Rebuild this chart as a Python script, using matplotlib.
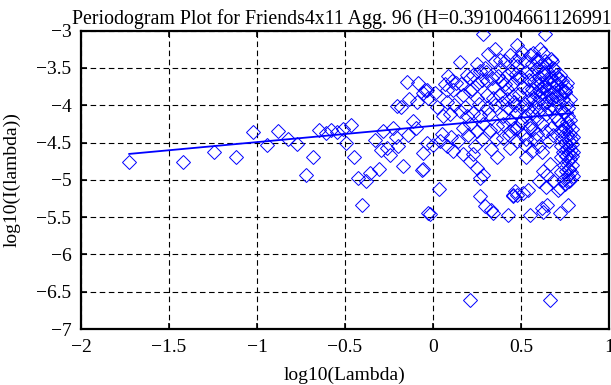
import numpy as np
import matplotlib
matplotlib.use("Agg")
import matplotlib.pyplot as plt

# ==========================================================
# DATA
# ==========================================================

hurst = 0.391004661126991
title = "Periodogram Plot for Friends4x11 Agg. 96 (H=%s)" % repr(hurst)

# fitted line: slope = 1 - 2H, intercept read at log10(Lambda) = 0
fit_slope = 1 - 2 * hurst
fit_intercept = -4.276

# sparse low-frequency part
x_low = [-1.726, -1.422, -1.246, -1.121, -1.024, -0.945, -0.879, -0.822, -0.771,
         -0.723, -0.682, -0.646, -0.608, -0.581, -0.547, -0.513, -0.494, -0.466,
         -0.449, -0.424, -0.402, -0.381, -0.358, -0.33, -0.305, -0.297, -0.282,
         -0.263, -0.244, -0.225, -0.21, -0.206, -0.197, -0.183, -0.168, -0.149,
         -0.14, -0.135, -0.112, -0.097, -0.093, -0.083, -0.065, -0.055, -0.055,
         -0.036, -0.036, -0.027, -0.017, -0.045, -0.026, 0.011, 0.002, 0.036]
y_low = [-4.754, -4.767, -4.633, -4.687, -4.365, -4.53, -4.343, -4.454, -4.52,
         -4.94, -4.70, -4.325, -4.374, -4.33, -4.365, -4.32, -4.507, -4.266,
         -4.70, -4.976, -5.343, -5.01, -4.91, -4.463, -4.85, -4.606, -4.35,
         -4.575, -4.664, -4.307, -4.419, -4.008, -4.543, -4.026, -4.81, -3.683,
         -4.396, -3.918, -4.205, -4.307, -3.95, -3.705, -4.865, -3.838, -4.641,
         -3.794, -4.507, -5.444, -5.454, -3.79, -3.90, -3.83, -4.53, -5.12]

# middle part, 0 .. 0.45
x_mid = [0.04, -0.055, 0.058, 0.068, 0.078, 0.078, 0.087, 0.097, 0.106, 0.115,
         0.115, 0.153, 0.153, 0.172, 0.172, 0.172, 0.191, 0.191, 0.21, 0.21,
         0.21, 0.21, 0.229, 0.229, 0.229, 0.248, 0.248, 0.248, 0.248, 0.267,
         0.267, 0.267, 0.267, 0.277, 0.286, 0.286, 0.286, 0.295, 0.305, 0.305,
         0.305, 0.314, 0.324, 0.333, 0.343, 0.352, 0.352, 0.362, 0.362, 0.371,
         0.381, 0.381, 0.39, 0.39, 0.40, 0.40, 0.409, 0.419, 0.419, 0.428,
         0.438, 0.438, 0.438, 0.447, 0.21, 0.02, 0.05, 0.08, 0.10, 0.12,
         0.14, 0.16, 0.18, 0.20, 0.22, 0.24, 0.26, 0.28, 0.30, 0.32,
         0.34, 0.36, 0.38, 0.40, 0.42, 0.44, 0.13, 0.33, 0.25, 0.35,
         0.41, 0.43, 0.295, 0.328, 0.339, 0.428]
y_mid = [-4.48, -4.86, -4.15, -3.72, -3.79, -4.55, -3.61, -4.12, -3.68, -3.79,
         -4.61, -3.42, -4.08, -3.86, -4.30, -4.66, -3.59, -4.15, -3.63, -3.81,
         -4.25, -4.75, -3.59, -4.10, -4.66, -3.72, -3.90, -4.35, -4.84, -3.54,
         -4.15, -4.97, -5.22, -3.66, -3.044, -4.25, -4.93, -3.50, -3.68, -3.86,
         -4.03, -3.31, -4.33, -3.63, -3.90, -3.41, -3.99, -4.28, -4.70, -3.61,
         -3.39, -3.86, -3.68, -3.97, -4.25, -4.44, -3.41, -3.59, -3.92, -4.03,
         -3.32, -4.35, -4.57, -3.54, -6.605, -4.02, -4.38, -3.95, -4.42, -4.00,
         -4.48, -3.72, -4.02, -4.40, -3.78, -4.55, -3.98, -4.45, -3.55, -4.12,
         -3.75, -4.45, -3.50, -4.15, -3.78, -4.20, -3.70, -4.58, -3.45, -3.25,
         -3.72, -4.40, -5.347, -5.40, -5.444, -5.467]

# dense high-frequency part, 0.45 .. 0.8
x_high = [0.457, 0.466, 0.475, 0.475, 0.457, 0.466, 0.475, 0.466, 0.457, 0.475,
          0.504, 0.513, 0.542, 0.523, 0.551, 0.551, 0.551, 0.561, 0.589, 0.589,
          0.617, 0.627, 0.627, 0.627, 0.636, 0.646, 0.646, 0.665, 0.674, 0.684,
          0.665, 0.712, 0.722, 0.722, 0.722, 0.75, 0.76, 0.769, 0.769, 0.778,
          0.45, 0.46, 0.47, 0.48, 0.49, 0.50, 0.50, 0.51, 0.51, 0.52,
          0.52, 0.53, 0.53, 0.54, 0.54, 0.545, 0.55, 0.55, 0.46, 0.48,
          0.49, 0.52, 0.53, 0.47, 0.50,
          0.555, 0.56, 0.56, 0.565, 0.57, 0.57, 0.575, 0.58, 0.58, 0.585,
          0.59, 0.59, 0.595, 0.60, 0.60, 0.605, 0.61, 0.61, 0.615, 0.62,
          0.62, 0.625, 0.63, 0.63, 0.635, 0.64, 0.64, 0.645, 0.65, 0.65,
          0.655, 0.66, 0.66, 0.665, 0.67, 0.67, 0.675, 0.68, 0.68, 0.685,
          0.69, 0.69, 0.695, 0.70, 0.70, 0.58, 0.60, 0.62, 0.64, 0.66,
          0.68, 0.57, 0.59, 0.61, 0.63, 0.65, 0.67, 0.69, 0.60, 0.64,
          0.705, 0.71, 0.715, 0.72, 0.725, 0.73, 0.735, 0.74, 0.745, 0.75,
          0.755, 0.76, 0.765, 0.71, 0.73,
          0.72, 0.725, 0.73, 0.735, 0.74, 0.745, 0.75, 0.75, 0.755, 0.755,
          0.76, 0.76, 0.765, 0.765, 0.77, 0.77, 0.77, 0.775, 0.775, 0.78,
          0.78, 0.78, 0.785, 0.785, 0.785, 0.79, 0.79, 0.79, 0.79, 0.795,
          0.795, 0.795, 0.74, 0.76, 0.73, 0.75, 0.78, 0.77, 0.74]
y_high = [-5.22, -5.155, -5.20, -3.63, -3.88, -3.99, -4.30, -3.41, -5.20, -3.19,
          -3.28, -5.17, -5.13, -4.53, -5.467, -3.32, -4.30, -4.61, -3.41, -4.39,
          -5.378, -5.436, -3.30, -4.88, -3.044, -5.333, -4.93, -4.79, -3.41, -5.02,
          -6.605, -5.13, -5.444, -3.59, -5.11, -3.81, -3.70, -5.333, -4.03, -3.92,
          -3.72, -3.95, -4.10, -3.48, -3.85, -4.22, -3.62, -4.40, -3.75, -3.98,
          -4.15, -3.55, -4.45, -3.80, -4.05, -3.66, -4.25, -3.92, -4.30, -4.48,
          -3.35, -3.40, -4.70, -3.58, -4.02,
          -3.58, -3.78, -4.10, -3.45, -3.92, -4.32, -3.68, -3.85, -4.02, -3.52,
          -3.72, -4.18, -3.95, -3.62, -3.80, -4.08, -3.48, -3.90, -3.70, -4.25,
          -3.82, -3.58, -3.98, -3.75, -3.40, -3.88, -4.12, -3.65, -3.78, -3.95,
          -3.55, -4.05, -3.70, -3.85, -3.62, -4.30, -3.92, -3.75, -3.50, -4.02,
          -3.82, -3.68, -4.15, -3.88, -3.60, -4.45, -4.55, -4.62, -4.35, -4.48,
          -4.40, -3.30, -3.38, -3.25, -3.55, -3.45, -3.38, -3.52, -5.02, -5.10,
          -3.72, -3.95, -3.65, -3.85, -4.05, -3.78, -3.68, -3.92, -4.10, -3.82,
          -3.75, -3.98, -4.15, -4.20, -4.25,
          -4.35, -4.55, -4.70, -4.42, -4.62, -4.80, -4.30, -4.50, -4.68, -4.88,
          -4.40, -4.58, -4.75, -4.95, -4.28, -4.48, -4.65, -4.85, -4.55, -4.38,
          -4.72, -5.00, -4.60, -4.45, -4.90, -4.32, -4.52, -4.68, -4.80, -4.42,
          -4.62, -4.95, -4.35, -4.22, -4.90, -5.05, -4.20, -5.02, -5.00]

x_ticks = [-2, -1.5, -1, -0.5, 0, 0.5, 1]
y_ticks = [-7, -6.5, -6, -5.5, -5, -4.5, -4, -3.5, -3]

# ==========================================================
# PLOT
# ==========================================================

plt.rcParams["font.family"] = ["Liberation Serif", "DejaVu Serif"]
plt.rcParams["font.size"] = 14

fig = plt.figure(figsize=(6.11, 3.85), dpi=100)
ax = fig.add_axes([81 / 611, 1 - 329 / 385, 528 / 611, 298.3 / 385])

x_all = np.array(x_low + x_mid + x_high)
y_all = np.array(y_low + y_mid + y_high)

ax.plot(x_all, y_all, linestyle="none", marker="D", markersize=7,
        markerfacecolor="none", markeredgecolor="#0000ff",
        markeredgewidth=0.7, zorder=3)

fit_x = np.array([x_all.min(), x_all.max()])
ax.plot(fit_x, fit_intercept + fit_slope * fit_x, color="#0000ff",
        linewidth=1.3, zorder=4)

ax.set_xlim(-2, 1)
ax.set_ylim(-7, -3)
ax.set_xticks(x_ticks)
ax.set_yticks(y_ticks)
ax.set_xticklabels([("%g" % t).replace("-", "\u2212") for t in x_ticks])
ax.set_yticklabels([("%g" % t).replace("-", "\u2212") for t in y_ticks])

ax.grid(True, color="black", linestyle=(0, (5.0, 3.2)), linewidth=0.8)
ax.set_axisbelow(True)

for s in ax.spines.values():
    s.set_linewidth(1.6)

ax.tick_params(direction="in", length=4, width=1.2, top=True, right=True,
               labelsize=14, pad=7)

ax.set_xlabel("log10(Lambda)", fontsize=14, labelpad=8)
ax.set_ylabel("log10(I(lambda))", fontsize=14, labelpad=11)
ax.set_title(title, fontsize=14.3, pad=5)

fig.savefig("out.png", dpi=100)
